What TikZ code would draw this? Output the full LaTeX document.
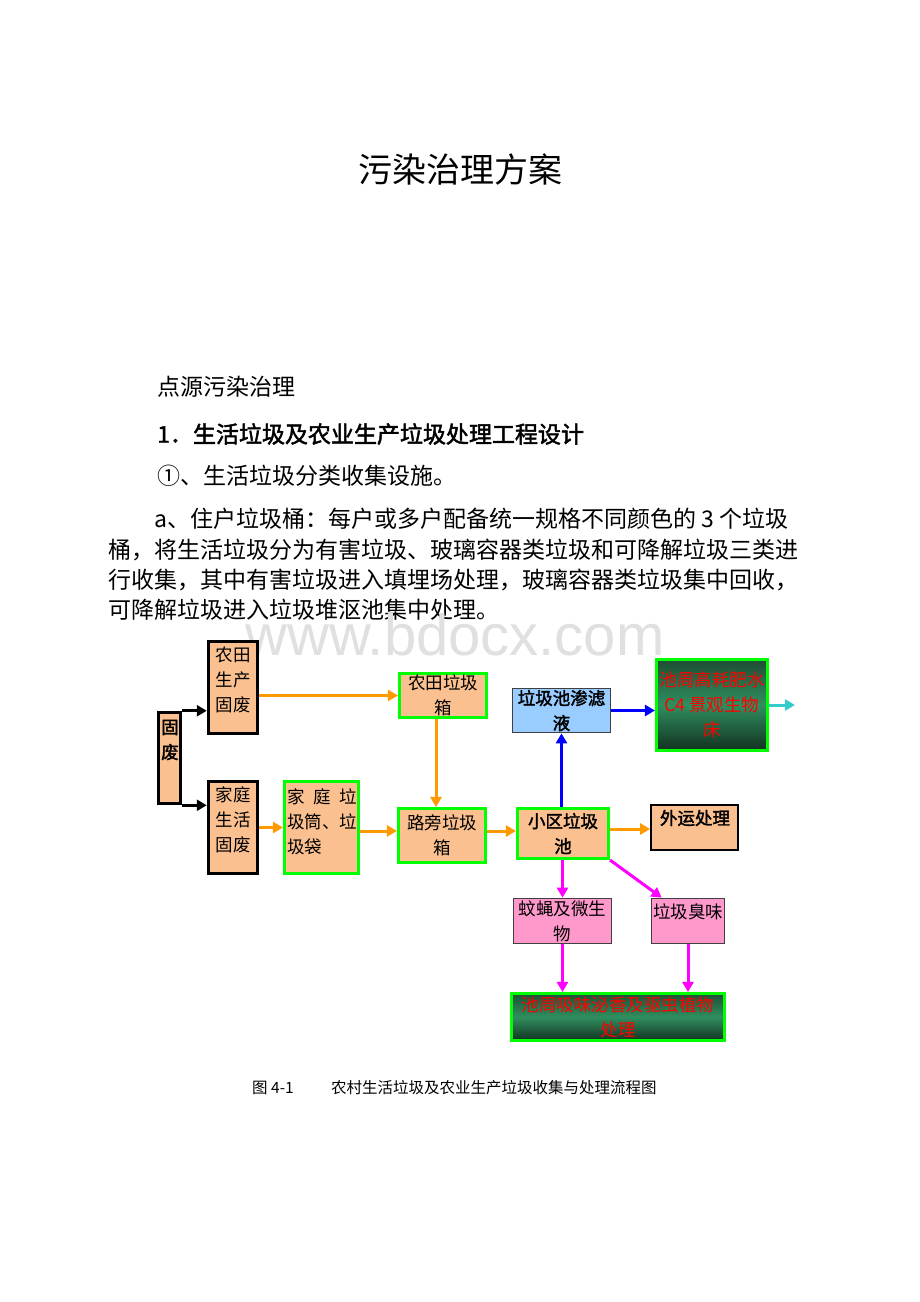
\documentclass[tikz,border=0pt]{standalone}
\usepackage{fontspec}
\setmainfont{Noto Sans CJK SC}[AutoFakeBold=2]
\newfontfamily\wmfont{Liberation Sans}
\usetikzlibrary{arrows.meta}
\XeTeXlinebreaklocale "zh"
\XeTeXlinebreakskip=0pt plus 3pt
\definecolor{peach}{HTML}{FAC090}
\definecolor{lgreen}{HTML}{00FF00}
\definecolor{lblue}{HTML}{99CCFF}
\definecolor{pinkb}{HTML}{FF99CC}
\definecolor{orng}{HTML}{FF9900}
\definecolor{mag}{HTML}{FF00FF}
\definecolor{cyn}{HTML}{33CCCC}
\definecolor{dkA}{HTML}{1E4D33}
\definecolor{dkB}{HTML}{2F8F5F}
\definecolor{dkC}{HTML}{12301F}
\definecolor{rtext}{HTML}{FF0000}
\definecolor{bordgray}{HTML}{404040}
\newcommand\mybox[7]{\node[#6, minimum width={#4-#2-2.5}, minimum height={#5-#3-2.5}] (#1) at ({(#2+#4)/2},{(#3+#5)/2}) {#7};}
\begin{document}
\begin{tikzpicture}[x=1pt,y=-1pt,
  bodytxt/.style={anchor=west, inner sep=0pt, font=\fontsize{23}{28}\selectfont},
  boxfont/.style={font=\fontsize{17.5}{25}\selectfont},
  box/.style={boxfont, align=center, inner sep=0pt},
  blkbox/.style={box, draw=black, line width=3pt, fill=peach},
  grnbox/.style={box, draw=lgreen, line width=2.6pt, fill=peach},
  bluebox/.style={box, draw=bordgray, line width=1.2pt, fill=lblue},
  pinkbox/.style={box, draw=bordgray, line width=1.2pt, fill=pinkb},
  darkbox/.style={box, draw=lgreen, line width=2.6pt, top color=dkA, bottom color=dkC, middle color=dkB, text=rtext},
  intext/.style={boxfont, align=center, inner sep=0pt},
  arr/.style={line width=3pt, -{Triangle[length=10pt,width=11pt]}},
  blkarr/.style={arr, draw=black},
  orarr/.style={arr, draw=orng},
  bluarr/.style={arr, draw=blue},
  magarr/.style={arr, draw=mag},
  cyarr/.style={arr, draw=cyn}
]
\useasboundingbox[fill=white] (0,0) rectangle (920,1302);

% page text
\node[font=\fontsize{34}{40}\selectfont] (title) at (460,170) {污染治理方案};
\node[bodytxt] (p1) at (157,387) {点源污染治理};
\node[bodytxt, font=\fontsize{23}{28}\selectfont\bfseries] (p2) at (157,434) {1．生活垃圾及农业生产垃圾处理工程设计};
\node[bodytxt] (p3) at (157,476) {①、生活垃圾分类收集设施。};
\node[bodytxt] (p4) at (154,519) {a、住户垃圾桶：每户或多户配备统一规格不同颜色的 3 个垃圾};
\node[bodytxt] (p5) at (108,550) {桶，将生活垃圾分为有害垃圾、玻璃容器类垃圾和可降解垃圾三类进};
\node[bodytxt] (p6) at (108,580) {行收集，其中有害垃圾进入填埋场处理，玻璃容器类垃圾集中回收，};
\node[bodytxt] (p7) at (108,610) {可降解垃圾进入垃圾堆沤池集中处理。};

% watermark
\node[font=\wmfont\fontsize{58}{60}\selectfont, text=black!12] (wm) at (455,635) {www.bdocx.com};

% boxes
\mybox{gf}{157}{711}{182}{805}{blkbox}{}
\node[intext, font=\fontsize{17.5}{25}\selectfont\bfseries] (gft) at (170,740) {固\\废};
\mybox{a1}{207}{640}{259}{735}{blkbox}{}
\node[intext] (a1t) at (233,680) {农田\\生产\\固废};
\mybox{a2}{207}{780}{259}{875}{blkbox}{}
\node[intext] (a2t) at (233,820) {家庭\\生活\\固废};
\mybox{c}{283}{780}{360}{875}{grnbox}{}
\node[intext, align=left] (ct) at (322,822) {\makebox[70pt][s]{家\hfill 庭\hfill 垃}\\圾筒、垃\\圾袋};
\mybox{b1}{398}{672}{488}{719}{grnbox}{农田垃圾\\箱}
\mybox{b2}{397}{807}{487}{864}{grnbox}{路旁垃圾\\箱}
\mybox{d}{516}{807}{610}{860}{grnbox, font=\fontsize{17.5}{25}\selectfont\bfseries}{小区垃圾\\池}
\mybox{f}{511}{687}{612}{734}{bluebox, font=\fontsize{17.5}{25}\selectfont\bfseries}{垃圾池渗滤\\液}
\mybox{g}{655}{658}{769}{752}{darkbox}{池周高耗肥水\\C4 景观生物\\床}
\mybox{e}{650}{804}{739}{851}{box, draw=black, line width=2.2pt, fill=peach}{}
\node[intext, font=\fontsize{17.5}{25}\selectfont\bfseries] (et) at (695,818) {外运处理};
\mybox{h}{512}{897}{613}{945}{pinkbox}{蚊蝇及微生\\物}
\mybox{i}{650}{897}{726}{945}{pinkbox}{}
\node[intext] (it) at (688,912) {垃圾臭味};
\mybox{k}{510}{992}{726}{1042}{darkbox}{池周吸味泌香及驱虫植物\\处理}

% connectors
\draw[blkarr] (gf.north east) -- (gf.north east -| a1.west);
\draw[blkarr] (gf.south east) -- (gf.south east -| a2.west);
\draw[orarr] (a1.east |- b1.west) -- (b1.west);
\draw[orarr] ([xshift=-7pt]b1.south) -- ([xshift=-7pt]b1.south |- b2.north);
\draw[orarr] (a2.east) -- (a2.east -| c.west);
\draw[orarr] ([yshift=-3.5pt]c.east) -- ([yshift=-3.5pt]c.east -| b2.west);
\draw[orarr] ([yshift=4.5pt]b2.east) -- ([yshift=4.5pt]b2.east -| d.west);
\draw[orarr] ([yshift=4.5pt]d.east) -- ([yshift=4.5pt]d.east -| e.west);
\draw[bluarr] (f.south |- d.north) -- (f.south);
\draw[bluarr] (f.east) -- (f.east -| g.west);
\coordinate (gout) at (795,703);
\draw[cyarr] (g.east) -- (g.east -| gout);
\draw[magarr] (h.north |- d.south) -- (h.north);
\draw[magarr] (d.south east) -- ([xshift=11pt]i.north west);
\draw[magarr] (h.south) -- (h.south |- k.north);
\draw[magarr] (i.south) -- (i.south |- k.north);

% caption
\node[anchor=west, inner sep=0pt, font=\fontsize{15.5}{18}\selectfont] (cap1) at (252,1088) {图 4-1};
\node[anchor=west, inner sep=0pt, font=\fontsize{15.5}{18}\selectfont] (cap2) at (331,1088) {\makebox[336pt][s]{农村生活垃圾及农业生产垃圾收集与处理流程图}};
\end{tikzpicture}
\end{document}
